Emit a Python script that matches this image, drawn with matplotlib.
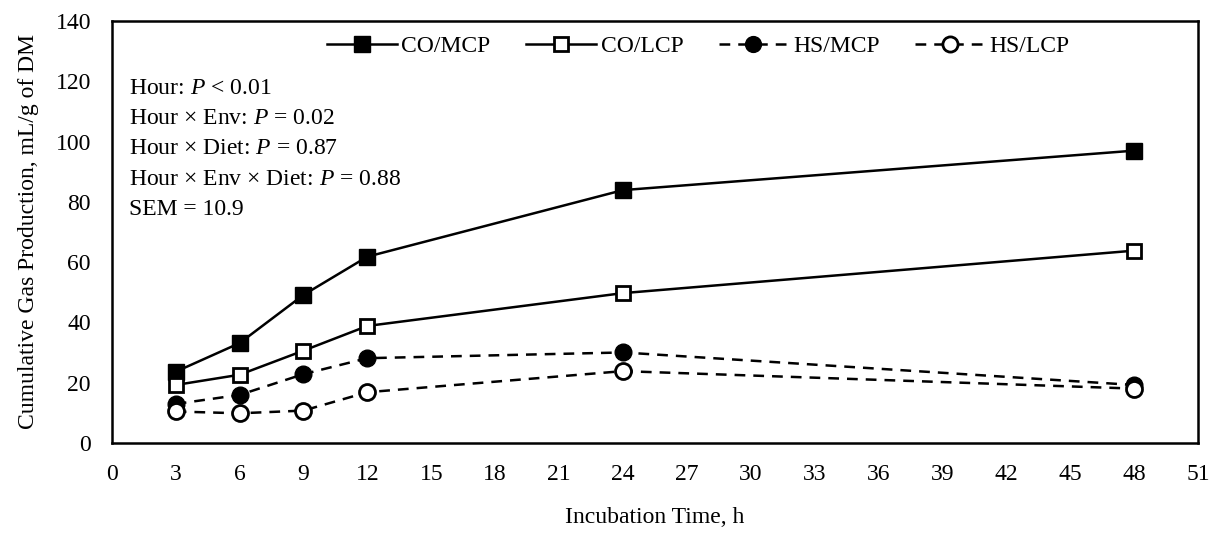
import numpy as np
import matplotlib
matplotlib.use("Agg")
import matplotlib.pyplot as plt

plt.rcParams['font.family'] = ['Liberation Serif', 'DejaVu Serif']
plt.rcParams['mathtext.fontset'] = 'custom'
plt.rcParams['mathtext.it'] = 'Liberation Serif:italic'
plt.rcParams['mathtext.rm'] = 'Liberation Serif'

hours = [3, 6, 9, 12, 24, 48]
co_mcp = [23.6, 33.1, 49.1, 61.8, 83.9, 97.0]
co_lcp = [19.2, 22.6, 30.6, 38.8, 49.7, 63.8]
hs_mcp = [12.9, 15.9, 22.8, 28.1, 30.0, 19.2]
hs_lcp = [10.4, 9.8, 10.7, 16.8, 23.8, 18.0]

stats = [
    "Hour: $\\it{P}$ < 0.01",
    "Hour \u00d7 Env: $\\it{P}$ = 0.02",
    "Hour \u00d7 Diet: $\\it{P}$ = 0.87",
    "Hour \u00d7 Env \u00d7 Diet: $\\it{P}$ = 0.88",
    "SEM = 10.9",
]

fs = 17
fig = plt.figure(figsize=(12.15, 5.42), dpi=100)
ax = fig.add_axes([0.092, 0.183, 0.894, 0.778])

ms = 11.5
lw = 1.8
dash = (0, (4.3, 3.2))
ax.plot(hours, co_mcp, color='black', lw=lw, marker='s', ms=ms,
        mfc='black', mec='black', label='CO/MCP')
ax.plot(hours, co_lcp, color='black', lw=lw, marker='s', ms=ms - 1,
        mfc='white', mec='black', mew=2, label='CO/LCP')
ax.plot(hours, hs_mcp, color='black', lw=lw, ls=dash, marker='o',
        ms=ms + 0.5, mfc='black', mec='black', label='HS/MCP')
ax.plot(hours, hs_lcp, color='black', lw=lw, ls=dash, marker='o',
        ms=ms, mfc='white', mec='black', mew=2, label='HS/LCP')

ax.set_xlim(0, 51)
ax.set_ylim(0, 140)
ax.set_xticks(np.arange(0, 52, 3))
ax.set_yticks(np.arange(0, 141, 20))
ax.tick_params(axis='both', length=0, labelsize=fs)
ax.tick_params(axis='x', pad=15)
ax.tick_params(axis='y', pad=15)
for s in ax.spines.values():
    s.set_linewidth(1.8)

ax.set_xlabel("Incubation Time, h", fontsize=fs, labelpad=16)
ax.set_ylabel("Cumulative Gas Production, mL/g of DM", fontsize=fs, labelpad=12)

for i, t in enumerate(stats):
    ax.text(0.016, 0.84 - i * 0.0715, t, transform=ax.transAxes,
            fontsize=fs, va='center', ha='left')

ax.legend(loc='center', bbox_to_anchor=(0.54, 0.94), ncol=4, frameon=False,
          fontsize=fs, handlelength=2.95, handletextpad=0.2,
          columnspacing=1.5, markerscale=0.95)

fig.savefig("out.png", dpi=100)
